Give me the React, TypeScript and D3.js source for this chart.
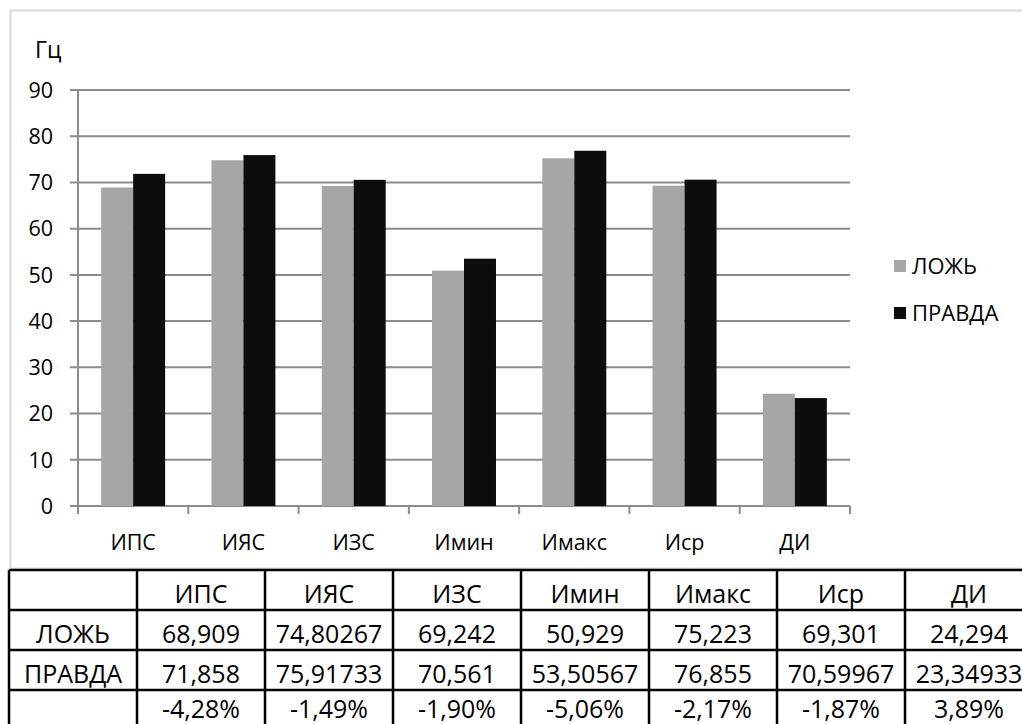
import React from "react";
import * as d3 from "d3";

const categories = ["ИПС", "ИЯС", "ИЗС", "Имин", "Имакс", "Иср", "ДИ"];
const seriesNames = ["ЛОЖЬ", "ПРАВДА"];
const lozh = [68.909, 74.80267, 69.242, 50.929, 75.223, 69.301, 24.294];
const pravda = [71.858, 75.91733, 70.561, 53.50567, 76.855, 70.59967, 23.34933];
const diffPct = [-4.28, -1.49, -1.9, -5.06, -2.17, -1.87, 3.89];
const yTicks = [0, 10, 20, 30, 40, 50, 60, 70, 80, 90];
const unitLabel = "Гц";

const W = 1022;
const H = 724;
const FONT = "'Open Sans', 'Noto Sans', sans-serif";
const colors = ["#a6a6a6", "#0d0d0d"];

export default function App() {
  const plotLeft = 78;
  const plotRight = 850;
  const y = d3.scaleLinear().domain([0, 90]).range([506, 90]);
  const x = d3
    .scaleBand<string>()
    .domain(categories)
    .range([plotLeft, plotRight])
    .paddingInner(0.42)
    .paddingOuter(0.21);
  const xs = d3.scaleBand<string>().domain(seriesNames).range([0, x.bandwidth()]);
  const series = [lozh, pravda];

  // table
  const tableCols = ["", ...categories];
  const tx = d3.scaleBand<string>().domain(tableCols).range([9, 9 + 8 * 128]);
  const rowTop = 570;
  const rowH = 40;
  const fmt = (v: number) => String(v).replace(".", ",");
  const fmtPct = (v: number) => v.toFixed(2).replace(".", ",") + "%";
  const rows: string[][] = [
    ["", ...categories],
    [seriesNames[0], ...lozh.map(fmt)],
    [seriesNames[1], ...pravda.map(fmt)],
    ["", ...diffPct.map(fmtPct)],
  ];
  const baseline = (ri: number) =>
    Math.min(rowTop + ri * rowH + 33, H - 6);

  return (
    <svg
      width={W}
      height={H}
      style={{ position: "absolute", left: 0, top: 0, display: "block", background: "#fff" }}
      fontFamily={FONT}
    >
      <rect x={0} y={0} width={W} height={H} fill="#fff" />
      {/* chart frame */}
      <rect x={10.5} y={10.5} width={W + 10} height={558} fill="none" stroke="#d9d9d9" strokeWidth={2} />
      {/* unit */}
      <text x={35} y={58} fontSize={23} fill="#000">{unitLabel}</text>
      {/* gridlines + y labels */}
      {yTicks.map((t) => (
        <g key={t}>
          <line x1={70} x2={plotRight} y1={y(t)} y2={y(t)} stroke="#8c8c8c" strokeWidth={2} />
          <text x={53} y={y(t)} dy="0.36em" textAnchor="end" fontSize={21.5} fill="#000">
            {t}
          </text>
        </g>
      ))}
      {/* y axis */}
      <line x1={plotLeft} x2={plotLeft} y1={y(90)} y2={514} stroke="#8c8c8c" strokeWidth={2} />
      {/* x ticks */}
      {d3.range(categories.length + 1).map((i) => {
        const px = plotLeft + (i * (plotRight - plotLeft)) / categories.length;
        return <line key={i} x1={px} x2={px} y1={506} y2={514} stroke="#8c8c8c" strokeWidth={2} />;
      })}
      {/* bars */}
      {series.map((vals, si) =>
        vals.map((v, i) => (
          <rect
            key={si + "-" + i}
            x={(x(categories[i]) as number) + (xs(seriesNames[si]) as number)}
            y={y(v)}
            width={xs.bandwidth()}
            height={y(0) - y(v)}
            fill={colors[si]}
          />
        ))
      )}
      {/* category labels */}
      {categories.map((c) => (
        <text
          key={c}
          x={(x(c) as number) + x.bandwidth() / 2}
          y={542}
          dy="0.36em"
          textAnchor="middle"
          fontSize={21.5}
          fill="#000"
        >
          {c}
        </text>
      ))}
      {/* legend */}
      {seriesNames.map((s, i) => (
        <g key={s} transform={`translate(894, ${266 + i * 47})`}>
          <rect x={0} y={-6} width={12} height={12} fill={colors[i]} />
          <text x={18} y={0} dy="0.36em" fontSize={22} fill="#000">
            {s}
          </text>
        </g>
      ))}
      {/* table */}
      {rows.map((r, ri) =>
        r.map((cell, ci) => (
          <text
            key={ri + "-" + ci}
            x={(tx(tableCols[ci]) as number) + tx.bandwidth() / 2}
            y={baseline(ri)}
            textAnchor="middle"
            fontSize={25}
            fill="#000"
          >
            {cell}
          </text>
        ))
      )}
      {d3.range(rows.length + 1).map((ri) => (
        <line
          key={"h" + ri}
          x1={9}
          x2={W}
          y1={rowTop + ri * rowH}
          y2={rowTop + ri * rowH}
          stroke="#000"
          strokeWidth={2.5}
        />
      ))}
      {tableCols.map((c) => (
        <line
          key={"v" + c}
          x1={tx(c) as number}
          x2={tx(c) as number}
          y1={rowTop}
          y2={rowTop + rows.length * rowH}
          stroke="#000"
          strokeWidth={2.5}
        />
      ))}
    </svg>
  );
}
